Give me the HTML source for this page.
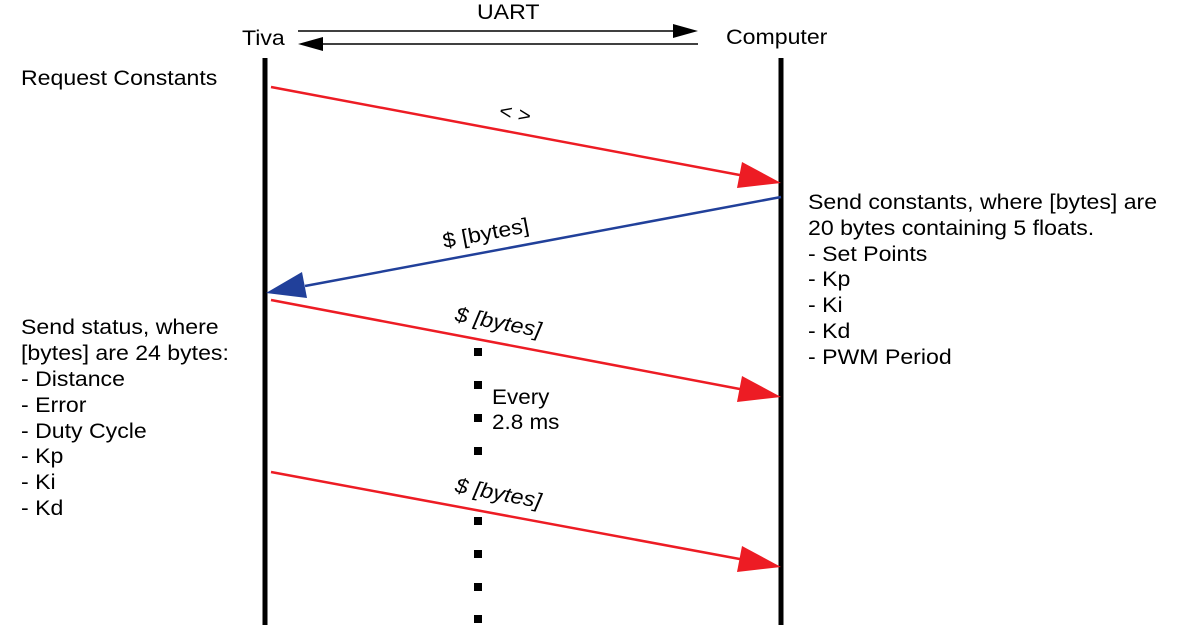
<!DOCTYPE html>
<html><head><meta charset="utf-8"><style>
html,body{margin:0;padding:0;background:#fff;}
svg{display:block;font-family:"Liberation Sans",sans-serif;}
</style></head><body>
<svg width="1178" height="632" viewBox="0 0 1178 632" xmlns="http://www.w3.org/2000/svg">
<g font-size="21" fill="#000">
<text transform="translate(242,45) scale(1.1,1)">Tiva</text>
<text transform="translate(726,44) scale(1.1,1)">Computer</text>
<text transform="translate(477,19) scale(1.1,1)">UART</text>
<text transform="translate(21,85) scale(1.1,1)">Request Constants</text>
<g transform="translate(808,0) scale(1.1,1)">
<text x="0" y="209">Send constants, where [bytes] are</text>
<text x="0" y="235">20 bytes containing 5 floats.</text>
<text x="0" y="261">- Set Points</text>
<text x="0" y="286">- Kp</text>
<text x="0" y="312">- Ki</text>
<text x="0" y="338">- Kd</text>
<text x="0" y="364">- PWM Period</text>
</g>
<g transform="translate(21,0) scale(1.1,1)">
<text x="0" y="334">Send status, where</text>
<text x="0" y="360">[bytes] are 24 bytes:</text>
<text x="0" y="386">- Distance</text>
<text x="0" y="412">- Error</text>
<text x="0" y="438">- Duty Cycle</text>
<text x="0" y="463">- Kp</text>
<text x="0" y="489">- Ki</text>
<text x="0" y="515">- Kd</text>
</g>
<g transform="translate(492,0) scale(1.07,1)">
<text x="0" y="404">Every</text>
<text x="0" y="429">2.8 ms</text>
</g>
</g>
<!-- UART arrows -->
<line x1="298" y1="31" x2="676" y2="31" stroke="#000" stroke-width="1.5"/>
<polygon points="698,31 673,24 673,38" fill="#000"/>
<line x1="320" y1="44" x2="698" y2="44" stroke="#000" stroke-width="1.5"/>
<polygon points="298,44 323,37 323,51" fill="#000"/>
<!-- lifelines -->
<line x1="265" y1="58" x2="265" y2="625" stroke="#000" stroke-width="5"/>
<line x1="781" y1="58" x2="781" y2="625" stroke="#000" stroke-width="5"/>
<!-- arrow 1 -->
<line x1="271" y1="87" x2="745" y2="176" stroke="#ed1c24" stroke-width="2.5"/>
<polygon points="781,183 742,162 737,188" fill="#ed1c24"/>
<g transform="translate(514,120) rotate(10.7) scale(1.1,1)"><text font-size="20" text-anchor="middle">&lt; &gt;</text></g>
<!-- arrow 2 blue -->
<line x1="781" y1="197" x2="305" y2="286" stroke="#21409a" stroke-width="2.5"/>
<polygon points="266,293 302,272 307,298" fill="#21409a"/>
<g transform="translate(487,240) rotate(-10.7) scale(1.1,1)"><text font-size="21" text-anchor="middle">$ [bytes]</text></g>
<!-- arrow 3 -->
<line x1="271" y1="300" x2="745" y2="390" stroke="#ed1c24" stroke-width="2.5"/>
<polygon points="781,397 742,376 737,402" fill="#ed1c24"/>
<g transform="translate(497,329) rotate(10.7) scale(1.1,1)"><text font-size="21" text-anchor="middle" font-style="italic">$ [bytes]</text></g>
<!-- arrow 4 -->
<line x1="271" y1="472" x2="745" y2="560" stroke="#ed1c24" stroke-width="2.5"/>
<polygon points="781,567 742,546 737,572" fill="#ed1c24"/>
<g transform="translate(497,500) rotate(10.7) scale(1.1,1)"><text font-size="21" text-anchor="middle" font-style="italic">$ [bytes]</text></g>
<!-- dots -->
<g fill="#000">
<rect x="474" y="348" width="8" height="8"/>
<rect x="474" y="381" width="8" height="8"/>
<rect x="474" y="414" width="8" height="8"/>
<rect x="474" y="447" width="8" height="8"/>
<rect x="474" y="517" width="8" height="8"/>
<rect x="474" y="550" width="8" height="8"/>
<rect x="474" y="583" width="8" height="8"/>
<rect x="474" y="615" width="8" height="8"/>
</g>
</svg>
</body></html>
